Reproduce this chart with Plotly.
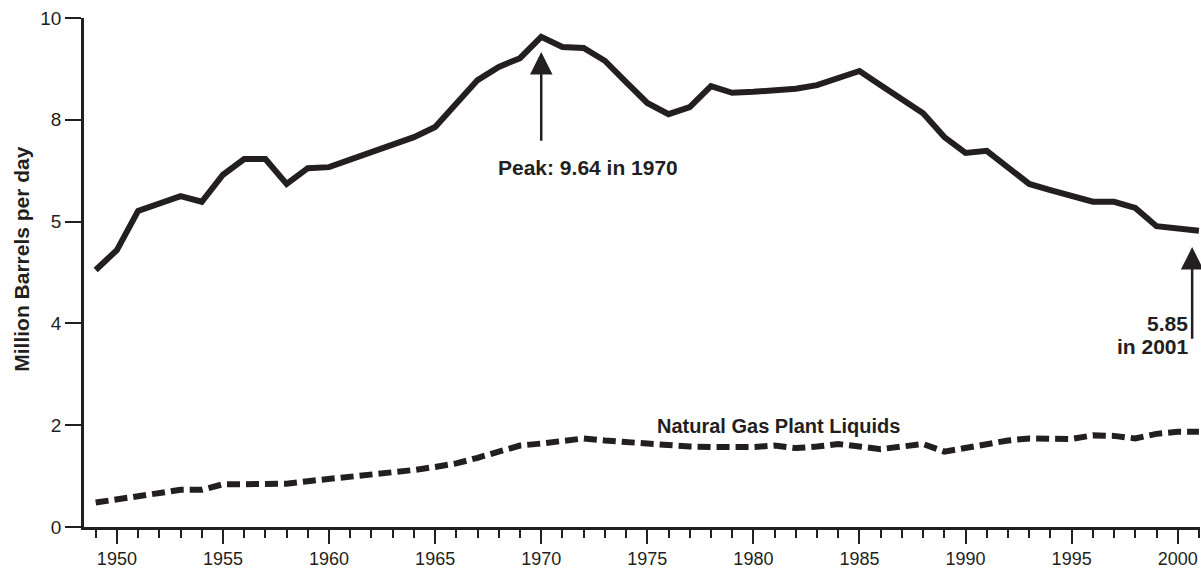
import plotly.graph_objects as go

years = list(range(1949, 2002))
crude = [5.05, 5.44, 6.21, 6.35, 6.50, 6.39, 6.92, 7.23, 7.23, 6.74,
         7.05, 7.07, 7.21, 7.37, 7.52, 7.66, 7.86, 8.31, 8.78, 9.04,
         9.21, 9.63, 9.43, 9.41, 9.16, 8.74, 8.33, 8.11, 8.25, 8.66,
         8.53, 8.55, 8.57, 8.61, 8.68, 8.82, 8.96, 8.68, 8.41, 8.13,
         7.66, 7.35, 7.39, 7.07, 6.74, 6.62, 6.50, 6.39, 6.39, 6.27,
         5.91, 5.87, 5.82]
ngpl = [0.48, 0.55, 0.62, 0.68, 0.73, 0.73, 0.84, 0.84, 0.85, 0.85,
        0.90, 0.94, 0.98, 1.02, 1.06, 1.12, 1.18, 1.25, 1.36, 1.48,
        1.60, 1.64, 1.69, 1.74, 1.70, 1.67, 1.63, 1.60, 1.58, 1.57,
        1.56, 1.57, 1.60, 1.55, 1.58, 1.63, 1.58, 1.53, 1.58, 1.63,
        1.48, 1.56, 1.63, 1.70, 1.74, 1.73, 1.73, 1.80, 1.79, 1.74,
        1.83, 1.87, 1.87]

ytick_vals = [0, 2, 4, 6, 8, 10]
ytick_text = ["0", "2", "4", "5", "8", "10"]
xtick_vals = [1950, 1955, 1960, 1965, 1970, 1975, 1980, 1985, 1990, 1995, 2000]

INK = "#231f20"
FONT = "Liberation Sans, Arial, sans-serif"

fig = go.Figure()
fig.add_trace(go.Scatter(x=years, y=crude, mode="lines",
                         line=dict(color=INK, width=6), showlegend=False))
fig.add_trace(go.Scatter(x=years, y=ngpl, mode="lines",
                         line=dict(color=INK, width=6, dash="13px,6px"),
                         showlegend=False))

fig.update_layout(
    width=1201, height=569,
    margin=dict(l=84, r=1, t=18, b=42, autoexpand=False),
    paper_bgcolor="white", plot_bgcolor="white",
    font=dict(family=FONT, color=INK, size=18),
    xaxis=dict(range=[1948.45, 2001.05], tickvals=xtick_vals,
               ticks="outside", ticklen=14, tickwidth=2, tickcolor=INK,
               showline=True, linecolor=INK, linewidth=2.5,
               showgrid=False, zeroline=False, automargin=False,
               minor=dict(dtick=1, tick0=1949, ticks="outside", ticklen=8,
                          tickwidth=2, tickcolor=INK, showgrid=False),
               tickfont=dict(size=18, family=FONT, color=INK)),
    yaxis=dict(range=[0, 10], tickvals=ytick_vals, ticktext=ytick_text,
               ticks="outside", ticklen=16, tickwidth=2, tickcolor=INK,
               showline=True, linecolor=INK, linewidth=2.5,
               showgrid=False, zeroline=False, automargin=False,
               tickfont=dict(size=19, family=FONT, color=INK)),
)

# y-axis title
fig.add_annotation(xref="paper", yref="paper", x=0, y=0.527, xshift=-62,
                   xanchor="center", yanchor="middle",
                   text="<b>Million Barrels per day</b>", textangle=-90,
                   showarrow=False, font=dict(size=21, family=FONT, color=INK))

fig.add_annotation(x=1970, y=9.33, ax=1970, ay=7.56, axref="x", ayref="y",
                   xref="x", yref="y", text="", showarrow=True,
                   arrowhead=2, arrowsize=1.8, arrowwidth=2.5, arrowcolor=INK)
fig.add_annotation(x=1972.2, y=7.06, xref="x", yref="y",
                   text="<b>Peak: 9.64 in 1970</b>", showarrow=False,
                   font=dict(size=21, family=FONT, color=INK))
fig.add_annotation(x=2000.68, y=5.5, ax=2000.68, ay=3.67, axref="x", ayref="y",
                   xref="x", yref="y", text="", showarrow=True,
                   arrowhead=2, arrowsize=1.8, arrowwidth=2.5, arrowcolor=INK)
fig.add_annotation(x=2000.6, y=3.99, xref="x", yref="y", xanchor="right",
                   text="<b>5.85</b>", showarrow=False,
                   font=dict(size=21, family=FONT, color=INK))
fig.add_annotation(x=2000.62, y=3.55, xref="x", yref="y", xanchor="right",
                   text="<b>in 2001</b>", showarrow=False,
                   font=dict(size=21, family=FONT, color=INK))
fig.add_annotation(x=1981.2, y=1.99, xref="x", yref="y",
                   text="<b>Natural Gas Plant Liquids</b>", showarrow=False,
                   font=dict(size=20, family=FONT, color=INK))

fig.write_html("out.html", config={"displayModeBar": False},
               post_script="document.body.style.margin='0px';document.body.style.overflow='hidden';")
